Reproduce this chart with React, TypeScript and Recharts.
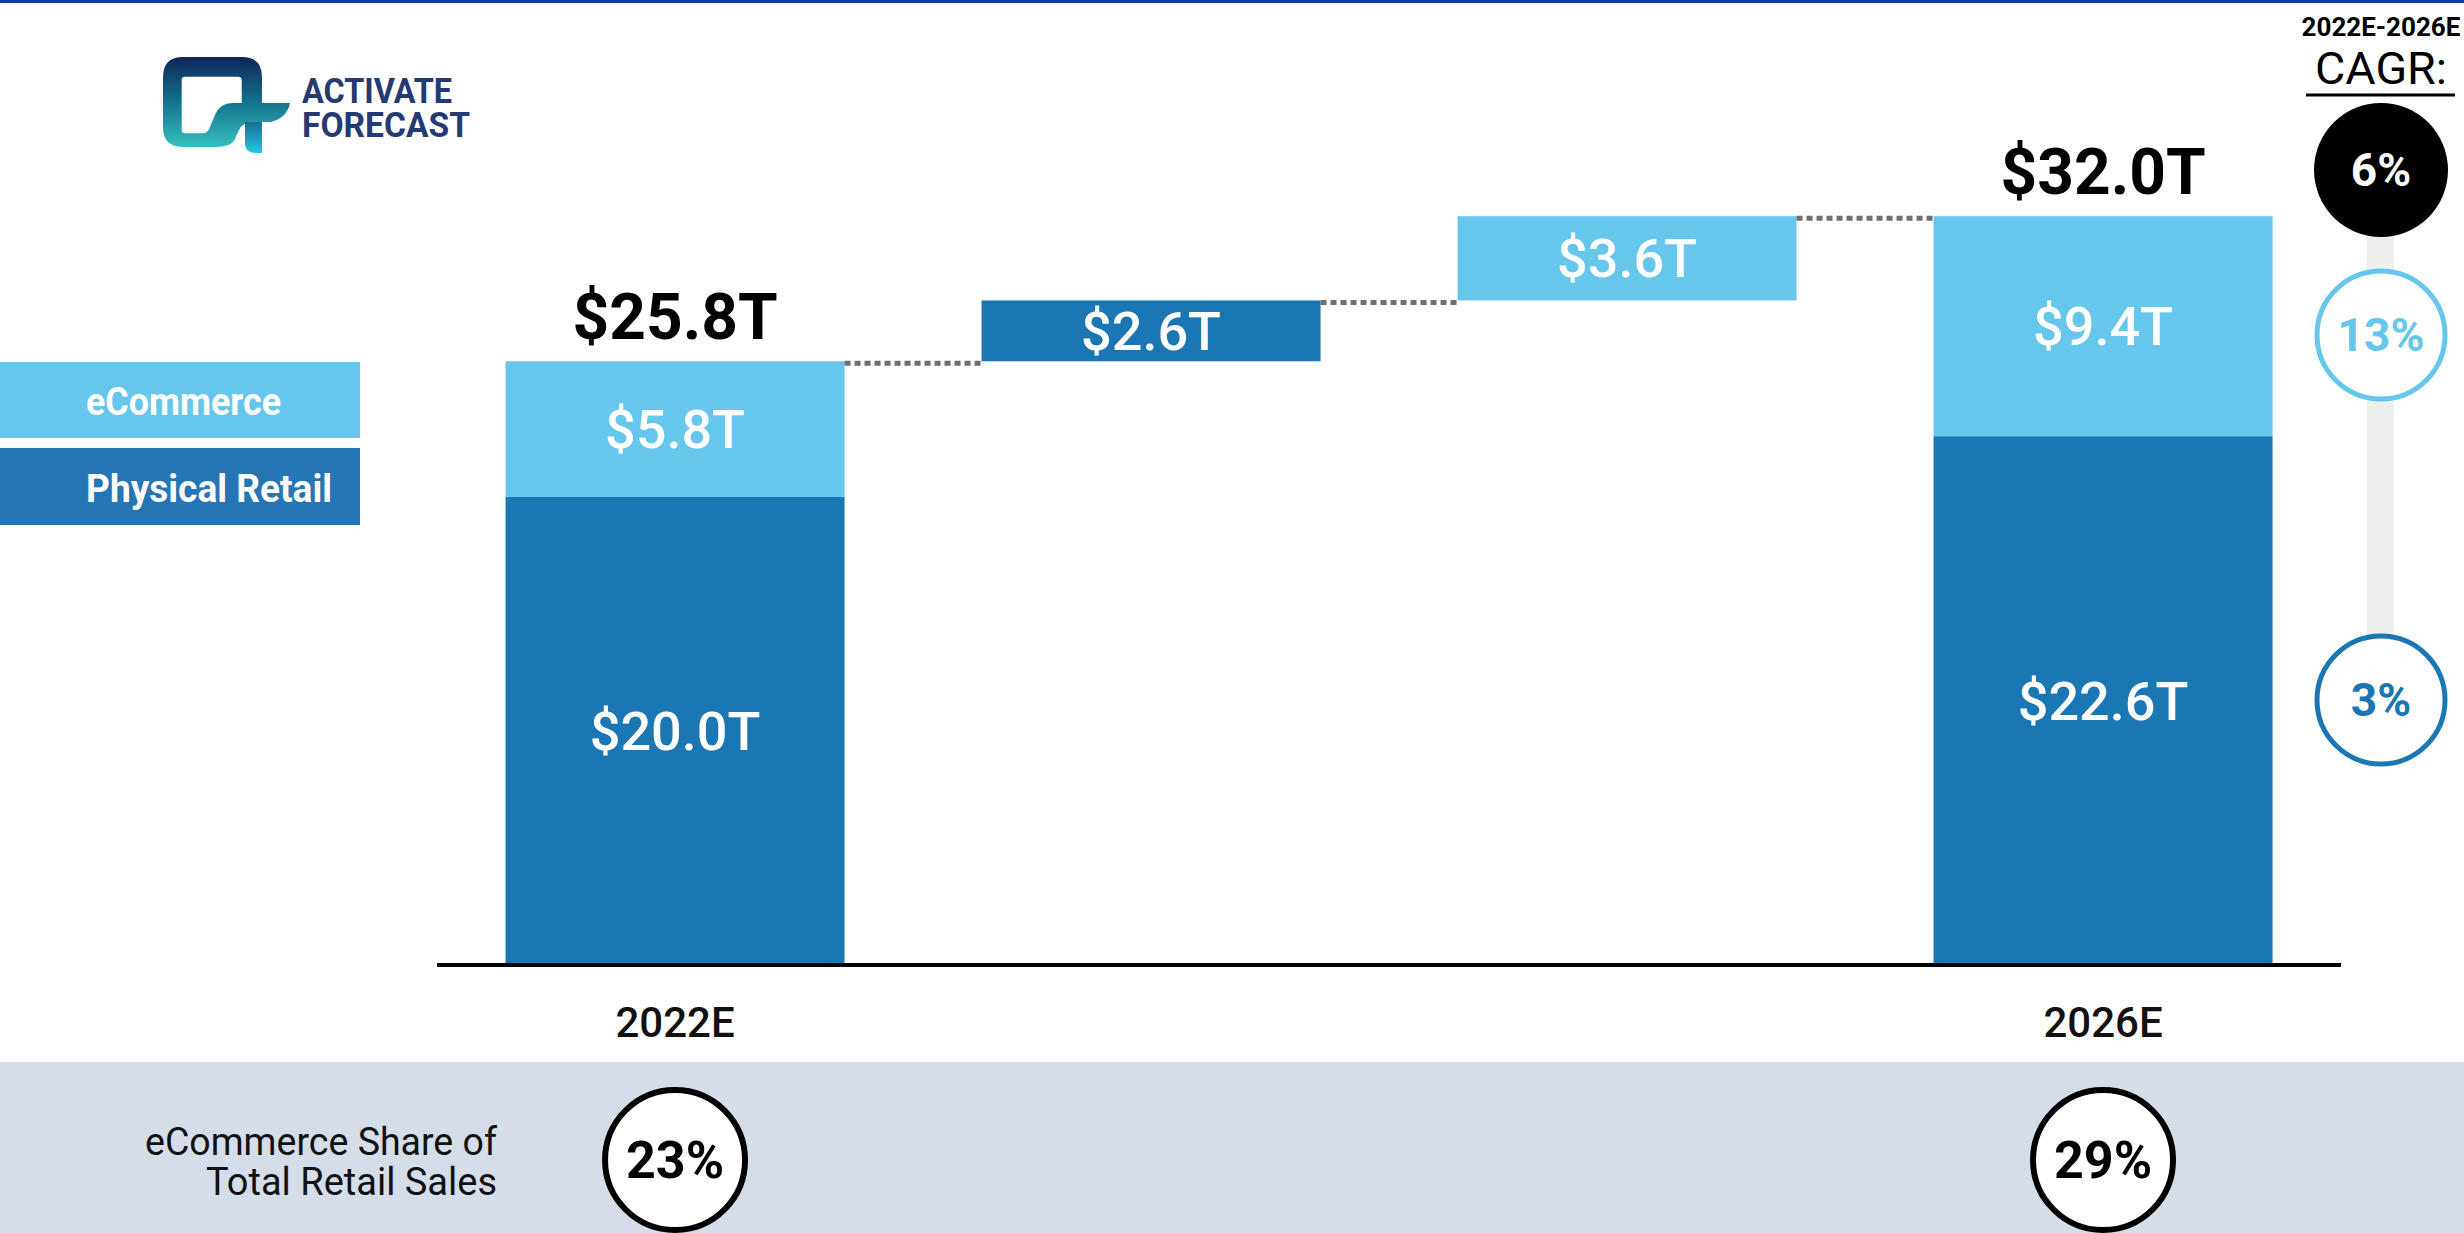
import { Bar, BarChart, LabelList, XAxis, YAxis } from 'recharts'

// waterfall: 2022E total -> physical growth -> eCommerce growth -> 2026E total
const categories = ['2022E', 'Physical Retail growth', 'eCommerce growth', '2026E']
const tickLabels = ['2022E', '', '', '2026E']
const baseValues = [0, 25.8, 28.4, 0]
const physicalValues = [20.0, 2.6, 0, 22.6]
const ecommerceValues = [5.8, 0, 3.6, 9.4]
const totalValues = [25.8, null, null, 32.0]
const shareValues = [23, null, null, 29]
const cagrLabels = ['6%', '13%', '3%'] // total, eCommerce, physical retail

const data = categories.map((category, i) => ({
  category,
  base: baseValues[i],
  physical: physicalValues[i],
  ecommerce: ecommerceValues[i],
  total: totalValues[i],
  share: shareValues[i],
}))

const DARK = '#1a77b3'
const LIGHT = '#66c6ec'
const FONT = 'Roboto, "Noto Sans", sans-serif'
const GAP = 0.144

const money = (v: any) => (v ? `$${Number(v).toFixed(1)}T` : '')

function segment(fill: string, key: 'physical' | 'ecommerce') {
  return (props: any) => {
    const { x, y, width, height, payload } = props
    const idx = categories.indexOf(payload.category)
    const isTop = payload[key] > 0 && (key === 'ecommerce' || !payload.ecommerce)
    const gapPx = (width * 2 * GAP) / (1 - 2 * GAP)
    return (
      <g>
        {height > 0 && <rect x={x} y={y} width={width} height={height} fill={fill} />}
        {isTop && idx < categories.length - 1 && (
          <line
            x1={x + width}
            x2={x + width + gapPx}
            y1={y + 2}
            y2={y + 2}
            stroke="#6f6f6f"
            strokeWidth={5}
            strokeDasharray="6 4"
          />
        )}
      </g>
    )
  }
}

function ShareBadge(props: any) {
  const { value } = props
  if (value == null) return null
  const vb = props.viewBox || props
  const cx = vb.x + vb.width / 2
  return (
    <g>
      <circle cx={cx} cy={1160} r={70} fill="#fff" stroke="#000" strokeWidth={6} />
      <text x={cx} y={1160 + 18} textAnchor="middle" fontFamily={FONT} fontWeight={700} fontSize={52} fill="#000">
        {value}%
      </text>
    </g>
  )
}

function Logo() {
  return (
    <g>
      <defs>
        <linearGradient id="logoMain" x1="0" y1="0" x2="0" y2="1">
          <stop offset="0%" stopColor="#0e2658" />
          <stop offset="45%" stopColor="#126a8a" />
          <stop offset="100%" stopColor="#35c0bd" />
        </linearGradient>
        <linearGradient id="logoLeg" x1="0" y1="0" x2="0" y2="1">
          <stop offset="0%" stopColor="#176f8e" />
          <stop offset="100%" stopColor="#22c8e6" />
        </linearGradient>
      </defs>
      <g transform="translate(163,57)">
        <path
          fillRule="evenodd"
          fill="url(#logoMain)"
          d="M 0 20 Q 0 0 20 0 L 79 0 Q 99 0 99 20 L 99 46 L 127 46 Q 124 61 108 65 L 90 65 Q 80 65 76 73 L 71 84 Q 66 90 52 90 L 20 90 Q 0 90 0 70 Z
             M 18.7 23 L 18.7 73 Q 18.7 76.3 22 76.3 L 40 76.3 Q 44 76.3 46 72 L 52 58 Q 57 46 70 46 L 78.7 46 L 78.7 23 Q 78.7 19.7 75 19.7 L 22 19.7 Q 18.7 19.7 18.7 23 Z"
        />
        <path fill="url(#logoLeg)" d="M 82 65 L 99 65 L 99 96 L 93 96 Q 82 96 82 86 Z" />
      </g>
      <text x={302} y={103} fontFamily={FONT} fontWeight={700} fontSize={35} fill="#253a73" textLength={150} lengthAdjust="spacingAndGlyphs">
        ACTIVATE
      </text>
      <text x={302} y={137} fontFamily={FONT} fontWeight={700} fontSize={35} fill="#253a73" textLength={168} lengthAdjust="spacingAndGlyphs">
        FORECAST
      </text>
    </g>
  )
}

function Overlay() {
  const cagrCircles = [
    { cy: 170, fill: '#000', stroke: '#000', text: '#fff' },
    { cy: 335, fill: '#fff', stroke: LIGHT, text: LIGHT },
    { cy: 700, fill: '#fff', stroke: DARK, text: DARK },
  ]
  return (
    <svg width={2464} height={1233} style={{ position: 'absolute', left: 0, top: 0, pointerEvents: 'none' }}>
      <Logo />
      {/* legend */}
      <rect x={0} y={362} width={360} height={76} fill={LIGHT} />
      <text x={86} y={415} fontFamily={FONT} fontWeight={700} fontSize={39} fill="#fff" textLength={195} lengthAdjust="spacingAndGlyphs">
        eCommerce
      </text>
      <rect x={0} y={448} width={360} height={77} fill="#2676b5" />
      <text x={86} y={502} fontFamily={FONT} fontWeight={700} fontSize={39} fill="#fff" textLength={246} lengthAdjust="spacingAndGlyphs">
        Physical Retail
      </text>
      {/* CAGR column */}
      <text x={2381} y={36} textAnchor="middle" fontFamily={FONT} fontWeight={700} fontSize={26} fill="#000">
        2022E-2026E
      </text>
      <text x={2381} y={84} textAnchor="middle" fontFamily={FONT} fontWeight={400} fontSize={45} fill="#000" textLength={132} lengthAdjust="spacingAndGlyphs">
        CAGR:
      </text>
      <line x1={2306} x2={2455} y1={95} y2={95} stroke="#000" strokeWidth={3} />
      <rect x={2367} y={170} width={27} height={530} fill="#eef0ee" />
      {cagrCircles.map((c, i) => (
        <g key={i}>
          <circle cx={2381} cy={c.cy} r={i === 0 ? 67 : 64} fill={c.fill} stroke={c.stroke} strokeWidth={i === 0 ? 0 : 5} />
          <text x={2381} y={c.cy + 16} textAnchor="middle" fontFamily={FONT} fontWeight={700} fontSize={46} fill={c.text}>
            {cagrLabels[i]}
          </text>
        </g>
      ))}
      {/* share row caption */}
      <text x={497} y={1155} textAnchor="end" fontFamily={FONT} fontSize={38} fill="#111" textLength={352} lengthAdjust="spacingAndGlyphs">
        eCommerce Share of
      </text>
      <text x={497} y={1195} textAnchor="end" fontFamily={FONT} fontSize={38} fill="#111" textLength={291} lengthAdjust="spacingAndGlyphs">
        Total Retail Sales
      </text>
    </svg>
  )
}

export default function App() {
  return (
    <div style={{ position: 'absolute', left: 0, top: 0, width: 2464, height: 1233, background: '#fff', overflow: 'hidden' }}>
      <div style={{ position: 'absolute', left: 0, top: 0, width: 2464, height: 3, background: '#0a3f91' }} />
      <div style={{ position: 'absolute', left: 0, top: 1062, width: 2464, height: 171, background: '#d5dde9' }} />
      <div style={{ position: 'absolute', left: 0, top: 0 }}>
        <BarChart
          width={2464}
          height={1233}
          data={data}
          margin={{ top: 29, right: 123, bottom: 208, left: 437 }}
          barCategoryGap={`${GAP * 100}%`}
        >
          <XAxis
            dataKey="category"
            interval={0}
            height={60}
            tickLine={false}
            tickMargin={36}
            axisLine={{ stroke: '#000', strokeWidth: 4 }}
            tick={{ fill: '#111', fontSize: 42, fontWeight: 500, fontFamily: FONT }}
            tickFormatter={(_v: any, i: number) => tickLabels[i]}
          />
          <YAxis hide domain={[0, 40]} />
          <Bar dataKey="base" stackId="w" fill="transparent" isAnimationActive={false} />
          <Bar dataKey="physical" stackId="w" fill={DARK} shape={segment(DARK, 'physical')} isAnimationActive={false}>
            <LabelList
              dataKey="physical"
              position="center"
              formatter={money}
              fill="#fff"
              fontSize={54}
              fontWeight={500}
              fontFamily={FONT}
            />
            <LabelList dataKey="share" content={ShareBadge} />
          </Bar>
          <Bar dataKey="ecommerce" stackId="w" fill={LIGHT} shape={segment(LIGHT, 'ecommerce')} isAnimationActive={false}>
            <LabelList
              dataKey="ecommerce"
              position="center"
              formatter={money}
              fill="#fff"
              fontSize={54}
              fontWeight={500}
              fontFamily={FONT}
            />
            <LabelList
              dataKey="total"
              position="top"
              offset={22}
              formatter={money}
              fill="#000"
              fontSize={64}
              fontWeight={700}
              fontFamily={FONT}
            />
          </Bar>
        </BarChart>
      </div>
      <Overlay />
    </div>
  )
}
